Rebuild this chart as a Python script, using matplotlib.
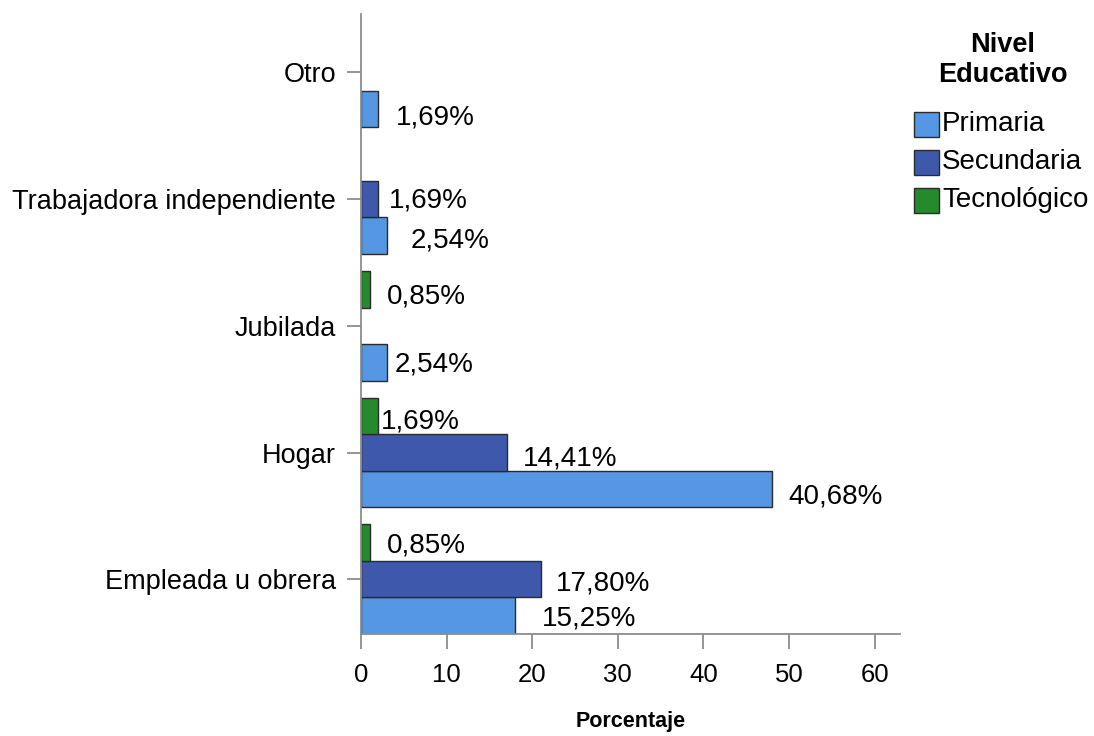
import numpy as np
import matplotlib
matplotlib.use("Agg")
from matplotlib import pyplot as plt
from matplotlib.patches import Rectangle

plt.rcParams['font.family'] = ['Liberation Sans', 'DejaVu Sans']

# data (bar length = count, label = percentage)
categories = ['Empleada u obrera', 'Hogar', 'Jubilada', 'Trabajadora independiente', 'Otro']
series = ['Primaria', 'Secundaria', 'Tecnológico']
primaria = [18, 48, 3, 3, 2]
secundaria = [21, 17, None, 2, None]
tecnologico = [1, 2, 1, None, None]
primaria_pct = ['15,25%', '40,68%', '2,54%', '2,54%', '1,69%']
secundaria_pct = ['17,80%', '14,41%', None, '1,69%', None]
tecnologico_pct = ['0,85%', '1,69%', '0,85%', None, None]

colors = ['#5597e3', '#3e58ab', '#248a2c']
edge = '#2b2b2b'

# label nudges in pixels (dx from bar end, dy downward), like the SPSS layout
nudges = [
    [(27, 3), (16, 7), (8, 2), (24, 5), (18, 9)],
    [(15, 4), (16, 6), None, (11, 1), None],
    [(17, 3), (3, 6), (17, 7), None, None],
]

fig = plt.figure(figsize=(10.94, 7.36), dpi=100)
ax = fig.add_axes([0.330, 0.1386, 0.493, 0.8424])

h = 0.288
y = np.arange(len(categories))
values = [primaria, secundaria, tecnologico]
labels = [primaria_pct, secundaria_pct, tecnologico_pct]
offsets = [-h, 0, h]

for s in range(3):
    for i in range(len(categories)):
        v = values[s][i]
        if v is None:
            continue
        yy = y[i] + offsets[s]
        ax.barh(yy, v, height=h, color=colors[s], edgecolor=edge, linewidth=1)
        dx, dy = nudges[s][i]
        ax.annotate(labels[s][i], (v, yy), xytext=(dx, -dy), textcoords='offset pixels',
                    ha='left', va='center', fontsize=20, color='black')

ax.set_xlim(0, 63)
ax.set_ylim(-1.5 * h, 4.46)
ax.set_xticks(range(0, 70, 10))
ax.set_yticks(y)
ax.set_yticklabels(categories)
for side in ['top', 'right']:
    ax.spines[side].set_visible(False)
for side in ['left', 'bottom']:
    ax.spines[side].set_color('#8c8c8c')
    ax.spines[side].set_linewidth(1.3)
ax.tick_params(axis='both', colors='#8c8c8c', labelcolor='black', width=1.3)
ax.tick_params(axis='y', length=10, pad=8, labelsize=19.5)
ax.tick_params(axis='x', length=11, pad=10, labelsize=18.5)

fig.text(0.5768, 1 - 722 / 736, 'Porcentaje', ha='center', va='center',
         fontsize=15.5, fontweight='bold')

# legend
fig.text(1003 / 1094, 1 - 45 / 736, 'Nivel', ha='center', va='center', fontsize=19.5, fontweight='bold')
fig.text(1003 / 1094, 1 - 75 / 736, 'Educativo', ha='center', va='center', fontsize=19.5, fontweight='bold')
W, H = 1094, 736
for k, name in enumerate(series):
    cy = 124 + k * 38
    fig.add_artist(Rectangle((914 / W, 1 - (cy + 12.5) / H), 25 / W, 25 / H,
                             transform=fig.transFigure, facecolor=colors[k],
                             edgecolor=edge, linewidth=1))
    fig.text(942 / W, 1 - cy / H, name, ha='left', va='center', fontsize=20)

fig.savefig('out.png', dpi=100)
